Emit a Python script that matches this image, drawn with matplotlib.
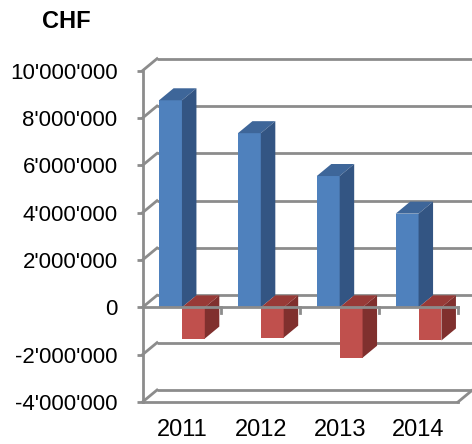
import matplotlib
matplotlib.use("Agg")
import matplotlib.pyplot as plt
from matplotlib.patches import Polygon
from matplotlib.ticker import FuncFormatter

plt.rcParams['font.family'] = ['Liberation Sans', 'DejaVu Sans']

years = ['2011', '2012', '2013', '2014']
income = [8750000, 7360000, 5550000, 3960000]
expense = [-1320000, -1280000, -2130000, -1400000]
yticks = [-4000000, -2000000, 0, 2000000, 4000000, 6000000, 8000000, 10000000]
title = 'CHF'

blue_front, blue_top, blue_side = '#4F81BD', '#3E6699', '#335583'
red_front, red_top, red_side = '#C0504D', '#983A37', '#80302E'
grid_c = '#8C8C8C'
lw = 2.0

W, H = 472, 444
fig = plt.figure(figsize=(W / 100, H / 100), dpi=100)
left_px, right_px, top_px, bot_px = 142.5, 458.0, 70.7, 402.0
ax = fig.add_axes([left_px / W, 1 - bot_px / H, (right_px - left_px) / W, (bot_px - top_px) / H])
ymin, ymax = yticks[0], yticks[-1]
ax.set_xlim(-0.5, len(years) - 0.5)
ax.set_ylim(ymin, ymax)

px_x = (right_px - left_px) / len(years)
px_y = (bot_px - top_px) / (ymax - ymin)
DX = 14.5 / px_x
DY = 12.0 / px_y
bw = 0.29

for s in ax.spines.values():
    s.set_visible(False)

# back wall gridlines and left wall diagonals
x0, x1 = -0.5, len(years) - 0.5
for v in yticks:
    ax.plot([x0 + DX, x1 + DX], [v + DY, v + DY], color=grid_c, lw=lw, zorder=1, clip_on=False,
            solid_capstyle='butt')
    ax.plot([x0, x0 + DX], [v, v + DY], color=grid_c, lw=lw, zorder=1, clip_on=False)
# floor front edge and right side
ax.plot([x0, x1], [ymin, ymin], color=grid_c, lw=lw, zorder=1, clip_on=False)
ax.plot([x1, x1 + DX], [ymin, ymin + DY], color=grid_c, lw=lw, zorder=1, clip_on=False)


def bar3d(xl, v, cf, ct, cs, z):
    xr = xl + bw
    ax.bar(xl, v, width=bw, align='edge', color=cf, zorder=z, clip_on=False, linewidth=0)
    top_y = max(v, 0)
    ax.add_patch(Polygon([(xl, top_y), (xr, top_y), (xr + DX, top_y + DY), (xl + DX, top_y + DY)],
                         closed=True, facecolor=ct, edgecolor='none', zorder=z, clip_on=False))
    ax.add_patch(Polygon([(xr, 0), (xr + DX, DY), (xr + DX, v + DY), (xr, v)],
                         closed=True, facecolor=cs, edgecolor='none', zorder=z, clip_on=False))


for i in range(len(years)):
    bar3d(i - bw, income[i], blue_front, blue_top, blue_side, 2 + 2 * i)
    bar3d(i, expense[i], red_front, red_top, red_side, 3 + 2 * i)

# front category axis at zero with ticks
ax.plot([x0, x1], [0, 0], color=grid_c, lw=lw, zorder=20, clip_on=False)
tl = 5.5 / px_y
for b in range(len(years)):
    xb = b + 0.5
    ax.plot([xb, xb], [0, -tl], color=grid_c, lw=lw, zorder=20, clip_on=False)
# front value axis
ax.plot([x0, x0], [ymin, ymax], color=grid_c, lw=lw, zorder=20, clip_on=False)

ax.set_yticks(yticks)
ax.yaxis.set_major_formatter(FuncFormatter(lambda v, p: f"{int(v):,}".replace(",", "'")))
ax.tick_params(axis='y', length=4, width=lw, color=grid_c, pad=14, labelsize=16)
ax.set_xticks(range(len(years)))
ax.set_xticklabels(years)
ax.tick_params(axis='x', length=0, pad=12, labelsize=17)

fig.text(66 / W, 1 - 22 / H, title, ha='center', va='center', fontsize=17, fontweight='bold')

fig.savefig('out.png', dpi=100)
